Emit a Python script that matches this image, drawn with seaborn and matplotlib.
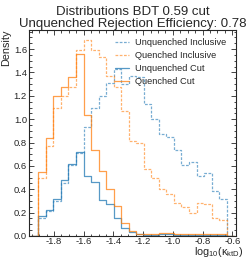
import numpy as np
import pandas as pd
import matplotlib
matplotlib.use("Agg")
import matplotlib.pyplot as plt
import seaborn as sns
from matplotlib.ticker import MultipleLocator

# binning of log10(kappa_ktD)
kappa_lo, kappa_hi, n_bins = -1.905, -0.638, 25

# densities per bin
unq_inclusive = [0.156, 0.21, 0.30, 0.45, 0.605, 0.71, 0.93, 1.10, 1.20, 1.31,
                 1.43, 1.30, 1.37, 1.36, 1.13, 1.00, 0.87, 0.85, 0.74, 0.61,
                 0.63, 0.51, 0.54, 0.385, 0.32]
q_inclusive = [0.50, 0.77, 1.10, 1.20, 1.28, 1.59, 1.68, 1.59, 1.53, 1.37,
               1.28, 1.07, 0.81, 0.80, 0.57, 0.50, 0.40, 0.36, 0.28, 0.25,
               0.20, 0.28, 0.27, 0.15, 0.14]
unq_cut = [0.17, 0.225, 0.32, 0.48, 0.62, 0.715, 0.51, 0.465, 0.31, 0.275,
           0.15, 0.065, 0.03, 0.015, 0.01, 0.01, 0.02, 0.02, 0.01, 0.01,
           0.01, 0.01, 0.01, 0.01, 0.01]
q_cut = [0.55, 0.84, 1.20, 1.28, 1.36, 1.56, 1.04, 0.74, 0.56, 0.40,
         0.26, 0.11, 0.04, 0.02, 0.02, 0.02, 0.025, 0.025, 0.02, 0.02,
         0.02, 0.02, 0.02, 0.02, 0.02]

labels = ["Unquenched Inclusive", "Quenched Inclusive", "Unquenched Cut", "Quenched Cut"]

sns.set_theme(style="ticks")
plt.rcParams["font.family"] = ["Liberation Sans", "DejaVu Sans"]
plt.rcParams["mathtext.fontset"] = "custom"
plt.rcParams["mathtext.rm"] = "Liberation Sans"
plt.rcParams["mathtext.it"] = "Liberation Sans:italic"
plt.rcParams["axes.unicode_minus"] = False

# pad one empty bin on each side so the steps drop to zero at the ends
edges = np.linspace(kappa_lo, kappa_hi, n_bins + 1)
w = edges[1] - edges[0]
edges = np.concatenate([[kappa_lo - w], edges, [kappa_hi + w]])
centers = 0.5 * (edges[:-1] + edges[1:])

fig = plt.figure(figsize=(2.49, 2.61), dpi=100)
ax = fig.add_axes([0.1165, 0.0958, 0.8313, 0.7893])

dash = (0, (2.2, 1.2))
styles = [("tab:blue", dash, 0.6), ("tab:orange", dash, 0.6),
          ("tab:blue", "-", 0.75), ("tab:orange", "-", 0.75)]
for vals, lab, (c, ls, a) in zip([unq_inclusive, q_inclusive, unq_cut, q_cut], labels, styles):
    df = pd.DataFrame({"kappa": centers, "density": np.r_[0, vals, 0]})
    sns.histplot(data=df, x="kappa", weights="density", bins=edges.tolist(), element="step",
                 fill=False, color=c, linestyle=ls, alpha=a, linewidth=0.9,
                 label=lab, ax=ax)

ax.set_xlim(-1.968, -0.575)
ax.set_ylim(0, 1.764)
ax.xaxis.set_major_locator(MultipleLocator(0.2))
ax.xaxis.set_minor_locator(MultipleLocator(0.05))
ax.yaxis.set_major_locator(MultipleLocator(0.2))
ax.yaxis.set_minor_locator(MultipleLocator(0.05))
ax.tick_params(which="both", direction="in", top=True, right=True, labelsize=6.8, width=0.6)
ax.tick_params(axis="x", pad=1)
ax.tick_params(axis="y", pad=1.5)
ax.tick_params(which="major", length=3.6)
ax.tick_params(which="minor", length=1.8)
for s in ax.spines.values():
    s.set_linewidth(0.8)

ax.set_title("Distributions BDT 0.59 cut\nUnquenched Rejection Efficiency: 0.78",
             fontsize=9.5, pad=0.8, linespacing=0.95)
ax.set_ylabel("Density", loc="top", fontsize=7.8, labelpad=1.5)
ax.set_xlabel(r"log$_{10}$(κ$_{\mathregular{ktD}}$)", loc="right", fontsize=7.8)
ax.xaxis.set_label_coords(1.035, -0.045)
ax.legend(loc="upper right", bbox_to_anchor=(0.971, 0.98), frameon=False, fontsize=6.7,
          handlelength=1.5, handletextpad=0.65, labelspacing=0.45, borderaxespad=0,
          borderpad=0.4)

fig.savefig("out.png", dpi=100)
